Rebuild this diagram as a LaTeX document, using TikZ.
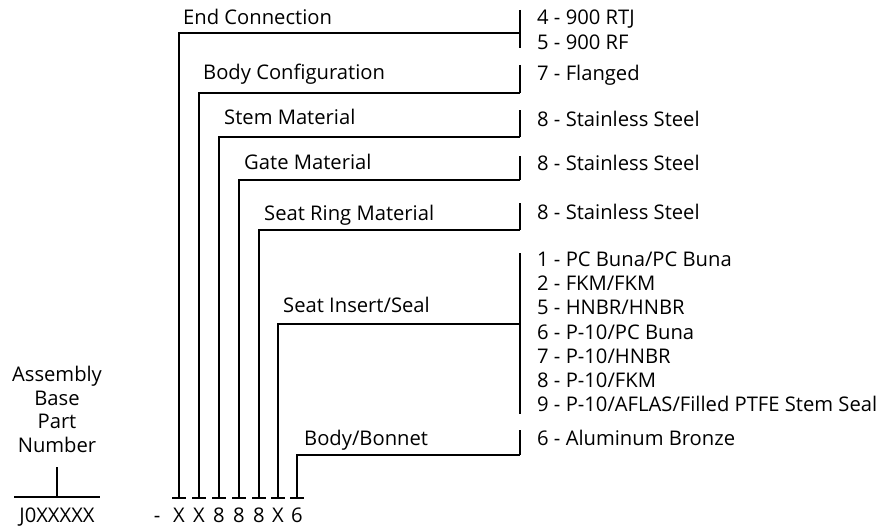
\documentclass[tikz,border=0pt]{standalone}
\usepackage{fontspec}
\setmainfont{Open Sans}
\begin{document}
\begin{tikzpicture}[x=1pt,y=-1pt,
  lbl/.style={anchor=base west,inner sep=0pt,font=\fontsize{20.2}{24}\selectfont},
  chr/.style={anchor=base,inner sep=0pt,font=\fontsize{20.2}{24}\selectfont},
  ln/.style={line width=2.2pt,line cap=butt}]
\useasboundingbox (0,0) rectangle (883,527);
% labels
\node[lbl] (tEnd) at (183,25) {End Connection};
\node[lbl] (tBody) at (203,80) {Body Configuration};
\node[lbl] (tStem) at (224,124) {Stem Material};
\node[lbl] (tGate) at (244,169) {Gate Material};
\node[lbl] (tSeatR) at (264,220) {Seat Ring Material};
\node[lbl] (tSeatI) at (283,312) {Seat Insert/Seal};
\node[lbl] (tBB) at (304,445) {Body/Bonnet};
% options
\node[lbl] (o1) at (537,25) {4 - 900 RTJ};
\node[lbl] (o2) at (537,49) {5 - 900 RF};
\node[lbl] (o3) at (537,81) {7 - Flanged};
\node[lbl] (o4) at (537,126) {8 - Stainless Steel};
\node[lbl] (o5) at (537,170) {8 - Stainless Steel};
\node[lbl] (o6) at (537,219) {8 - Stainless Steel};
\node[lbl] (s1) at (537,266) {1 - PC Buna/PC Buna};
\node[lbl] (s2) at (537,290) {2 - FKM/FKM};
\node[lbl] (s3) at (537,314) {5 - HNBR/HNBR};
\node[lbl] (s4) at (537,339) {6 - P-10/PC Buna};
\node[lbl] (s5) at (537,363) {7 - P-10/HNBR};
\node[lbl] (s6) at (537,387) {8 - P-10/FKM};
\node[lbl] (s7) at (537,411) {9 - P-10/AFLAS/Filled PTFE Stem Seal};
\node[lbl] (o7) at (537,445) {6 - Aluminum Bronze};
% assembly base
\node[chr] (a1) at (57,381) {Assembly};
\node[chr] (a2) at (57,405) {Base};
\node[chr] (a3) at (57,428) {Part};
\node[chr] (a4) at (57,452) {Number};
\node[chr] (base) at (57,522) {J0XXXXX};
\coordinate (bt) at (57,467);
\coordinate (bm) at (57,497);
\coordinate (bl) at (14,497);
\coordinate (br) at (100,497);
\draw[ln] (bl) -- (br);
\draw[ln] (bt) -- (bm);
% code characters
\node[chr] (dash) at (157,522) {-};
\node[chr] (c1) at (179,522) {X};
\node[chr] (c2) at (199,522) {X};
\node[chr] (c3) at (219,522) {8};
\node[chr] (c4) at (239,522) {8};
\node[chr] (c5) at (259,522) {8};
\node[chr] (c6) at (278,522) {X};
\node[chr] (c7) at (297,522) {6};
% leaders
\foreach \n/\x/\y/\t/\b in {1/179/33/10/48, 2/199/93/65/93, 3/219/137/110/137, 4/239/180/156/180, 5/259/230/203/230, 6/278/324/253/414, 7/297/455/430/455}{
  \coordinate (h\n) at (\x,\y);
  \coordinate (k\n) at (\x,498);
  \coordinate (r\n) at (520,\y);
  \coordinate (rt\n) at (520,\t);
  \coordinate (rb\n) at (520,\b);
  \coordinate (kl\n) at (\x-7,498);
  \coordinate (kr\n) at (\x+7,498);
  \draw[ln] (k\n) -- (h\n) -- (r\n);
  \draw[ln] (rt\n) -- (rb\n);
  \draw[ln] (kl\n) -- (kr\n);
}
\end{tikzpicture}
\end{document}
